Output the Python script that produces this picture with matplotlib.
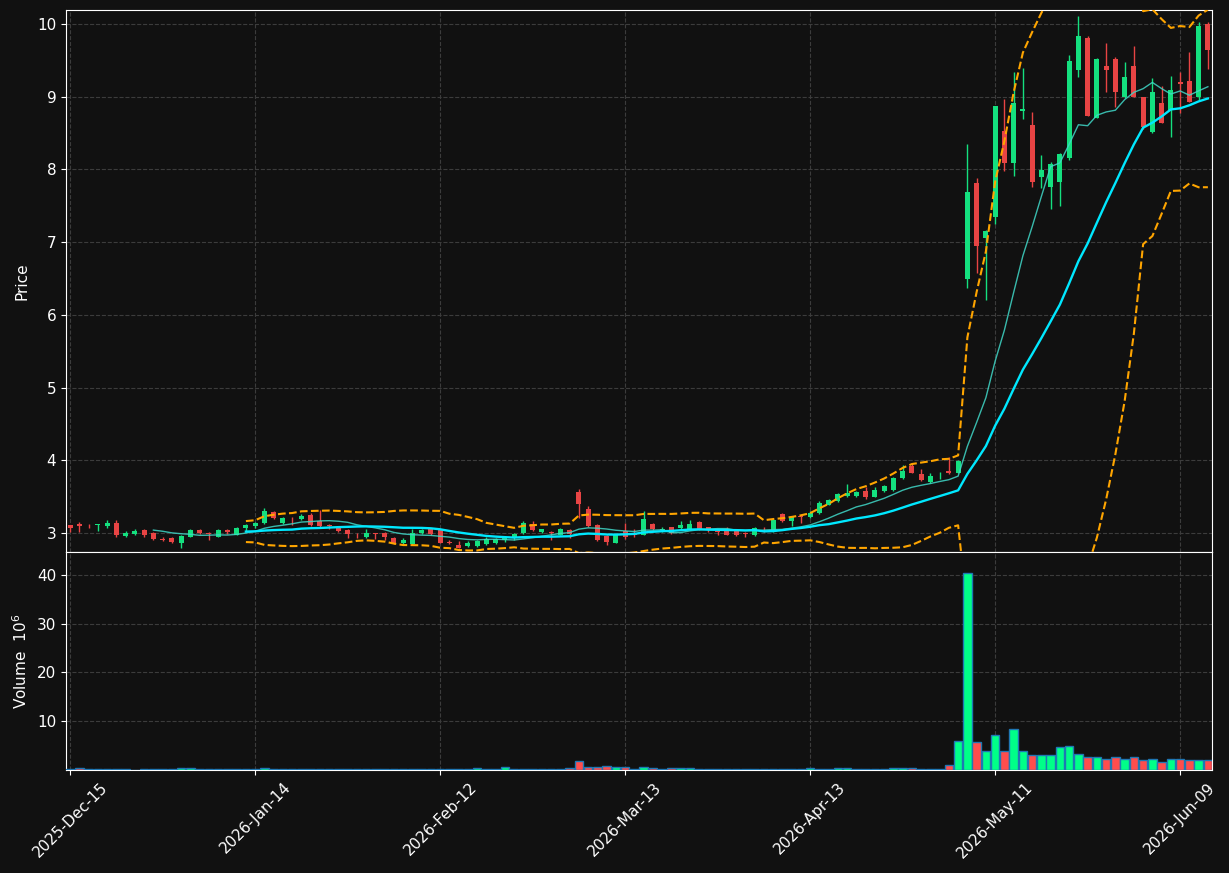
import numpy as np
import pandas as pd
import matplotlib
matplotlib.use("Agg")
import matplotlib.pyplot as plt

# Données OHLC
opens = [3.11, 3.13, 3.09, 3.11, 3.10, 3.14, 2.96, 2.99, 3.04, 3.00,
         2.92, 2.93, 2.87, 2.95, 3.04, 3.00, 2.95, 3.04, 2.98, 3.065,
         3.10, 3.14, 3.29, 3.14, 3.20, 3.19, 3.25, 3.16, 3.11, 3.08,
         3.04, 2.98, 2.94, 3.00, 3.00, 2.93, 2.86, 2.85, 3.00, 3.05,
         3.04, 2.88, 2.83, 2.82, 2.82, 2.85, 2.86, 2.91, 2.95, 3.00,
         3.12, 3.01, 3.01, 2.98, 3.04, 3.56, 3.33, 3.11, 2.96, 2.87,
         3.03, 2.99, 2.98, 3.12, 3.04, 3.08, 3.07, 3.05, 3.15, 3.08,
         3.025, 3.04, 3.03, 3.00, 2.97, 3.055, 3.03, 3.26, 3.16, 3.225,
         3.22, 3.27, 3.39, 3.44, 3.51, 3.51, 3.58, 3.50, 3.58, 3.59,
         3.76, 3.92, 3.81, 3.70, 3.82, 3.85, 3.83, 6.49, 7.81, 7.06,
         7.34, 8.53, 8.09, 8.80, 8.61, 7.89, 7.76, 7.83, 8.16, 9.37,
         9.81, 8.71, 9.42, 9.52, 9.00, 9.42, 8.99, 8.51, 8.91, 8.82,
         9.20, 9.22, 8.99, 10.00]
highs = [3.11, 3.15, 3.13, 3.13, 3.18, 3.18, 3.03, 3.05, 3.05, 3.01,
         2.94, 2.94, 2.97, 3.06, 3.06, 3.01, 3.06, 3.06, 3.08, 3.13,
         3.15, 3.34, 3.30, 3.22, 3.22, 3.26, 3.28, 3.32, 3.12, 3.09,
         3.06, 3.00, 3.05, 3.00, 3.01, 2.94, 2.93, 3.05, 3.05, 3.06,
         3.05, 2.90, 2.89, 2.89, 2.90, 2.95, 2.93, 2.96, 3.00, 3.16,
         3.16, 3.06, 3.03, 3.07, 3.06, 3.60, 3.37, 3.13, 2.97, 2.98,
         3.14, 3.06, 3.30, 3.14, 3.08, 3.09, 3.16, 3.18, 3.16, 3.09,
         3.06, 3.08, 3.04, 3.01, 3.08, 3.09, 3.19, 3.27, 3.22, 3.23,
         3.30, 3.44, 3.47, 3.55, 3.67, 3.58, 3.63, 3.63, 3.66, 3.77,
         3.94, 3.97, 3.88, 3.83, 3.84, 4.05, 4.01, 8.35, 7.88, 7.16,
         8.87, 8.97, 9.34, 9.39, 8.79, 8.20, 8.10, 8.23, 9.57, 10.11,
         9.83, 9.53, 9.74, 9.55, 9.48, 9.70, 9.00, 9.26, 9.14, 9.29,
         9.34, 9.61, 10.02, 10.03]
lows = [3.02, 3.02, 3.07, 3.03, 3.07, 2.94, 2.94, 2.98, 2.95, 2.91,
        2.89, 2.87, 2.79, 2.94, 2.99, 2.90, 2.94, 2.99, 2.97, 3.02,
        3.07, 3.13, 3.20, 3.13, 3.11, 3.18, 3.10, 3.09, 3.05, 3.01,
        2.93, 2.93, 2.93, 2.92, 2.91, 2.85, 2.85, 2.84, 2.99, 2.98,
        2.86, 2.85, 2.79, 2.81, 2.81, 2.83, 2.85, 2.88, 2.90, 2.99,
        3.03, 3.00, 2.90, 2.97, 2.93, 3.21, 3.08, 2.89, 2.83, 2.86,
        2.92, 2.95, 2.97, 3.04, 3.01, 2.99, 3.06, 3.04, 3.04, 3.02,
        2.97, 2.97, 2.96, 2.95, 2.96, 3.02, 3.02, 3.15, 3.10, 3.14,
        3.21, 3.26, 3.38, 3.43, 3.50, 3.50, 3.47, 3.49, 3.57, 3.58,
        3.75, 3.82, 3.72, 3.69, 3.74, 3.81, 3.82, 6.37, 6.58, 6.20,
        7.25, 7.98, 7.91, 8.69, 7.76, 7.74, 7.45, 7.49, 8.13, 9.27,
        8.73, 8.70, 9.06, 8.86, 8.98, 8.99, 8.55, 8.50, 8.64, 8.45,
        8.77, 8.92, 8.95, 9.38]
closes = [3.07, 3.10, 3.08, 3.12, 3.14, 2.97, 3.00, 3.03, 2.98, 2.92,
          2.91, 2.88, 2.96, 3.04, 3.00, 2.99, 3.04, 3.01, 3.07, 3.105,
          3.14, 3.31, 3.21, 3.21, 3.19, 3.23, 3.11, 3.10, 3.10, 3.03,
          2.99, 2.97, 3.00, 2.99, 2.94, 2.86, 2.90, 3.00, 3.04, 2.99,
          2.87, 2.86, 2.80, 2.86, 2.89, 2.92, 2.92, 2.95, 2.99, 3.14,
          3.04, 3.05, 3.00, 3.06, 2.99, 3.40, 3.10, 2.90, 2.88, 2.97,
          2.94, 2.98, 3.19, 3.05, 3.05, 3.00, 3.11, 3.13, 3.05, 3.04,
          3.02, 2.98, 2.97, 2.99, 3.07, 3.05, 3.18, 3.16, 3.22, 3.22,
          3.28, 3.42, 3.46, 3.54, 3.55, 3.57, 3.50, 3.59, 3.65, 3.76,
          3.85, 3.83, 3.73, 3.78, 3.83, 3.82, 3.99, 7.69, 6.94, 7.15,
          8.87, 8.09, 8.91, 8.83, 7.82, 7.99, 8.08, 8.21, 9.49, 9.84,
          8.74, 9.52, 9.37, 9.07, 9.27, 9.00, 8.58, 9.07, 8.64, 9.09,
          9.17, 8.93, 9.97, 9.64]
# Volume en millions
volumes = [0.30, 0.40, 0.20, 0.15, 0.20, 0.25, 0.10, 0.05, 0.15, 0.20,
           0.15, 0.15, 0.35, 0.35, 0.20, 0.15, 0.20, 0.15, 0.20, 0.20,
           0.20, 0.35, 0.20, 0.15, 0.15, 0.15, 0.15, 0.15, 0.10, 0.15,
           0.15, 0.10, 0.15, 0.10, 0.15, 0.15, 0.15, 0.20, 0.15, 0.15,
           0.20, 0.10, 0.15, 0.15, 0.35, 0.20, 0.20, 0.55, 0.20, 0.25,
           0.15, 0.15, 0.15, 0.20, 0.35, 1.90, 0.60, 0.60, 0.80, 0.55,
           0.60, 0.25, 0.55, 0.35, 0.20, 0.35, 0.35, 0.35, 0.20, 0.15,
           0.15, 0.30, 0.15, 0.15, 0.20, 0.30, 0.30, 0.30, 0.20, 0.15,
           0.50, 0.20, 0.15, 0.35, 0.35, 0.20, 0.15, 0.15, 0.20, 0.35,
           0.35, 0.35, 0.15, 0.15, 0.15, 1.00, 5.90, 40.3, 5.70, 3.80,
           7.10, 3.80, 8.40, 3.80, 3.00, 3.00, 3.00, 4.65, 4.85, 3.20,
           2.70, 2.70, 2.20, 2.70, 2.20, 2.60, 2.00, 2.20, 1.60, 2.20,
           2.20, 2.00, 2.00, 2.00]

# Calendrier des séances (jours ouvrés US, sans les jours fériés)
holidays = ["2025-12-25", "2026-01-01", "2026-01-19", "2026-02-16", "2026-04-03", "2026-05-25"]
dates = pd.bdate_range("2025-12-15", "2026-06-12")
dates = dates[~dates.isin(pd.to_datetime(holidays))]

o = np.array(opens); h = np.array(highs); l = np.array(lows); c = np.array(closes)
v = np.array(volumes)
x = np.arange(len(c))

s = pd.Series(c)
ma10 = s.rolling(10).mean()
ma20 = s.rolling(20).mean()
std20 = s.rolling(20).std()
bb_up = ma20 + 2 * std20
bb_low = ma20 - 2 * std20

bg = "#111111"
up_c, down_c = "#14e07f", "#e84444"
vup_c, vdown_c = "#00ff88", "#ff4d4d"
hausse = c >= o

fig = plt.figure(figsize=(12.29, 8.73), dpi=100, facecolor=bg)
ax = fig.add_axes([0.0537, 0.3677, 0.9325, 0.6208], facecolor=bg)
axv = fig.add_axes([0.0537, 0.118, 0.9325, 0.2497], facecolor=bg, sharex=ax)

# Bougies
cols = np.where(hausse, up_c, down_c)
ax.vlines(x, l, h, colors=cols, lw=1, zorder=2)
ax.bar(x, np.maximum(np.abs(c - o), 0.01), bottom=np.minimum(o, c), width=0.55, color=cols, zorder=3)

# Moyennes mobiles et bandes de Bollinger
ax.plot(x, ma10, color="#40d8c8", lw=1, alpha=0.85, zorder=4)
ax.plot(x, ma20, color="#00e8ff", lw=1.7, zorder=4)
ax.plot(x, bb_up, color="#ffa500", lw=1.5, ls="--", zorder=4)
ax.plot(x, bb_low, color="#ffa500", lw=1.5, ls="--", zorder=4)

# Volume
vcols = np.where(hausse, vup_c, vdown_c)
axv.bar(x, v, width=0.92, color=vcols, edgecolor="#1f77b4", lw=1, zorder=3)

ax.set_xlim(-0.45, 123.45)
ax.set_ylim(2.74, 10.19)
axv.set_ylim(0, 44.7)
ax.set_yticks(range(3, 11))
axv.set_yticks([10, 20, 30, 40])

ticks = list(range(0, len(c), 20))
axv.set_xticks(ticks)
axv.set_xticklabels([dates[i].strftime("%Y-%b-%d") for i in ticks], rotation=45)
plt.setp(ax.get_xticklabels(), visible=False)
ax.tick_params(axis="x", length=0)

for a in (ax, axv):
    a.grid(True, ls="--", color="#3c3c3c", lw=0.8)
    a.set_axisbelow(True)
    a.tick_params(colors="white", labelsize=11)
    for sp in a.spines.values():
        sp.set_color("white")

ax.set_ylabel("Price", color="white", fontsize=11)
axv.set_ylabel("Volume  $10^6$", color="white", fontsize=11)
ax.yaxis.set_label_coords(-0.032, 0.5)
axv.yaxis.set_label_coords(-0.031, 0.5)

fig.savefig("out.png", dpi=100, facecolor=bg)
